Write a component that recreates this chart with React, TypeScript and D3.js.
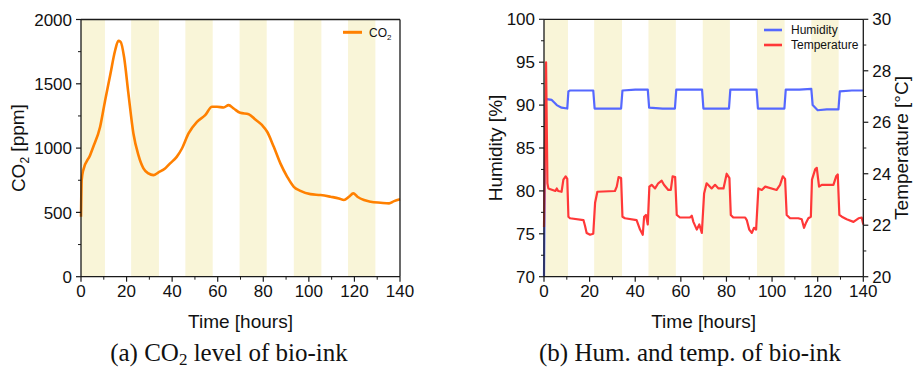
import React from "react";
import * as d3 from "d3";

// Light period windows (hours) shaded on both panels
const lightStart = [0, 22, 45.8, 69.6, 93.4, 117.2];
const lightEnd = [10.5, 34.2, 57.8, 81.5, 105.5, 129.2];

// Panel (a): CO2 concentration
const co2Hours = [0, 0.3, 1, 4, 5.4, 8.4, 10.6, 12.8, 15, 16.4, 17.4, 18.9, 20.8, 23, 25.2, 27.4, 29.6, 31.8, 34, 36.9, 39.1, 42, 44.3, 47.2, 50.9, 54.5, 57.5, 59.7, 62.6, 64.8, 67, 69.9, 73.6, 76.5, 79.5, 81.7, 84.6, 87.5, 90.5, 93.4, 96.3, 100.7, 105.1, 109.5, 113.2, 115.4, 117.6, 119.5, 121.3, 124.2, 127.1, 131.5, 135.2, 137.4, 140];
const co2Ppm = [466, 751, 829, 945, 1010, 1166, 1373, 1567, 1761, 1834, 1826, 1709, 1425, 1114, 945, 842, 803, 790, 811, 842, 881, 932, 997, 1114, 1204, 1256, 1321, 1321, 1316, 1334, 1308, 1274, 1264, 1222, 1178, 1127, 1010, 881, 777, 699, 668, 642, 635, 622, 609, 596, 622, 648, 622, 596, 583, 575, 570, 588, 603];

// Panel (b): relative humidity
const humHours = [0, 0.6, 1.2, 3.4, 5.6, 7.7, 10.2, 10.7, 11.4, 16, 21.6, 22.2, 28, 33.8, 34.4, 40, 45.5, 46.1, 52, 57.4, 58, 64, 69.3, 69.9, 75, 81.1, 81.7, 87, 93.2, 93.8, 100, 105.4, 106, 112, 117.2, 117.8, 120, 124, 129.1, 129.7, 135, 140];
const humPct = [70, 90.5, 90.7, 90.6, 90.0, 89.7, 89.6, 91.6, 91.7, 91.7, 91.7, 89.6, 89.6, 89.6, 91.7, 91.8, 91.8, 89.7, 89.6, 89.6, 91.8, 91.8, 91.8, 89.6, 89.6, 89.6, 91.8, 91.8, 91.8, 89.6, 89.6, 89.6, 91.8, 91.8, 91.9, 90.0, 89.4, 89.5, 89.5, 91.6, 91.7, 91.7];

// Panel (b): temperature
const tempHours = [0, 0.9, 1.5, 1.9, 5, 5.6, 6.2, 7.7, 8.5, 9.5, 10.2, 10.7, 11.4, 17.3, 18, 18.7, 20.2, 21.6, 22.4, 23.4, 31.1, 31.9, 32.7, 33.8, 34.4, 35.5, 40.6, 42.1, 43.3, 43.9, 44.7, 45.5, 46.2, 47.2, 48.7, 50.1, 51.6, 52.6, 54.5, 55.6, 56.4, 57.5, 58.2, 59.6, 64, 64.8, 65.5, 67, 68.1, 69.2, 70.2, 71.3, 73.5, 75, 76.5, 78.7, 80.1, 81.3, 81.9, 83, 88.2, 88.9, 90, 91.1, 92.1, 93, 94, 95.5, 97, 102, 103.5, 104.7, 105.7, 106.4, 107.9, 111.5, 113, 114, 114.9, 115.9, 117, 117.5, 118.9, 119.6, 120.6, 121.8, 126.9, 128.1, 128.8, 129.5, 130.6, 132.7, 135.7, 137.9, 139.3, 140];
const tempC = [
  21.93, 28.33, 23.63, 23.43, 23.33, 23.43, 23.33, 23.30, 23.77, 23.90,
  23.80, 22.33, 22.27, 22.20, 21.97, 21.70, 21.63, 21.67, 22.87, 23.30,
  23.33, 23.50, 23.87, 23.83, 22.33, 22.27, 22.20, 21.83, 21.63, 22.33,
  22.40, 22.03, 23.50, 23.57, 23.43, 23.63, 23.73, 23.57, 23.37, 23.37,
  23.90, 23.87, 22.40, 22.30, 22.30, 22.37, 22.13, 21.83, 22.03, 21.70,
  23.23, 23.63, 23.43, 23.57, 23.43, 23.43, 24.00, 23.83, 22.40, 22.30,
  22.30, 22.20, 21.83, 21.70, 21.90, 21.83, 23.43, 23.37, 23.50, 23.37,
  23.57, 23.90, 23.80, 22.40, 22.27, 22.27, 22.23, 21.90, 22.10, 22.27,
  22.33, 23.77, 24.17, 24.23, 23.50, 23.57, 23.57, 23.90, 23.97, 22.40,
  22.33, 22.23, 22.13, 22.27, 22.30, 22.03,
];

// Axis ticks
const timeTicks = [0, 20, 40, 60, 80, 100, 120, 140];
const timeMinor = [10, 30, 50, 70, 90, 110, 130];
const co2Ticks = [0, 500, 1000, 1500, 2000];
const co2Minor = [250, 750, 1250, 1750];
const humTicks = [70, 75, 80, 85, 90, 95, 100];
const humMinor = [72.5, 77.5, 82.5, 87.5, 92.5, 97.5];
const tempTicks = [20, 22, 24, 26, 28, 30];
const tempMinor = [21, 23, 25, 27, 29];

const SANS = "'Liberation Sans', Arial, sans-serif";
const SERIF = "'Liberation Serif', 'Times New Roman', serif";
const AXIS = "#1a1a1a";
const BAND = "#f9f5d8";
const ORANGE = "#ff8000";
const BLUE = "#5568ff";
const RED = "#ff3838";
const TICK_FS = 17;
const TITLE_FS = 19;

const zip = (xs: number[], ys: number[]) => xs.map((x, i) => [x, ys[i]] as [number, number]);

function Bands({ x, y0, y1 }: { x: d3.ScaleLinear<number, number>; y0: number; y1: number }) {
  return (
    <g>
      {lightStart.map((s, i) => (
        <rect key={i} x={x(s)} y={y1} width={x(lightEnd[i]) - x(s)} height={y0 - y1} fill={BAND} />
      ))}
    </g>
  );
}

function XAxis({ x, y }: { x: d3.ScaleLinear<number, number>; y: number }) {
  const [a, b] = x.range();
  return (
    <g>
      <line x1={a} x2={b} y1={y} y2={y} stroke={AXIS} strokeWidth={1.3} />
      {timeTicks.map((t) => (
        <g key={t}>
          <line x1={x(t)} x2={x(t)} y1={y} y2={y + 5} stroke={AXIS} strokeWidth={1.2} />
          <text x={x(t)} y={y + 20} fontSize={TICK_FS} fontFamily={SANS} textAnchor="middle" fill="#111">
            {t}
          </text>
        </g>
      ))}
      {timeMinor.map((t) => (
        <line key={t} x1={x(t)} x2={x(t)} y1={y} y2={y + 3} stroke={AXIS} strokeWidth={1} />
      ))}
      <text x={(a + b) / 2} y={y + 51} fontSize={TITLE_FS} fontFamily={SANS} textAnchor="middle" fill="#111">
        Time [hours]
      </text>
    </g>
  );
}

function YAxis({
  y,
  x,
  ticks,
  minor,
  side,
}: {
  y: d3.ScaleLinear<number, number>;
  x: number;
  ticks: number[];
  minor: number[];
  side: "left" | "right";
}) {
  const [b, t] = y.range();
  const dir = side === "left" ? -1 : 1;
  return (
    <g>
      <line x1={x} x2={x} y1={b} y2={t} stroke={AXIS} strokeWidth={1.3} />
      {ticks.map((v) => (
        <g key={v}>
          <line x1={x} x2={x + dir * 5} y1={y(v)} y2={y(v)} stroke={AXIS} strokeWidth={1.2} />
          <text
            x={x + dir * 9}
            y={y(v)}
            dy="0.36em"
            fontSize={TICK_FS}
            fontFamily={SANS}
            textAnchor={side === "left" ? "end" : "start"}
            fill="#111"
          >
            {v}
          </text>
        </g>
      ))}
      {minor.map((v) => (
        <line key={v} x1={x} x2={x + dir * 3} y1={y(v)} y2={y(v)} stroke={AXIS} strokeWidth={1} />
      ))}
    </g>
  );
}

function Co2Panel() {
  const x = d3.scaleLinear().domain([0, 140]).range([81, 400]);
  const y = d3.scaleLinear().domain([0, 2000]).range([276.7, 19.5]);
  const line = d3
    .line<[number, number]>()
    .x((d) => x(d[0]))
    .y((d) => y(d[1]))
    .curve(d3.curveMonotoneX);
  return (
    <g>
      <Bands x={x} y0={y(0)} y1={y(2000)} />
      <path d={line(zip(co2Hours, co2Ppm)) ?? ""} fill="none" stroke={ORANGE} strokeWidth={2.6} strokeLinejoin="round" />
      <line x1={x(0)} x2={x(140)} y1={y(2000)} y2={y(2000)} stroke={AXIS} strokeWidth={1.3} />
      <line x1={x(140)} x2={x(140)} y1={y(0)} y2={y(2000)} stroke={AXIS} strokeWidth={1.3} />
      <XAxis x={x} y={y(0)} />
      <YAxis y={y} x={x(0)} ticks={co2Ticks} minor={co2Minor} side="left" />
      <text
        transform={`translate(18,${(y(0) + y(2000)) / 2}) rotate(-90)`}
        dy="0.36em"
        fontSize={TITLE_FS}
        fontFamily={SANS}
        textAnchor="middle"
        fill="#111"
      >
        CO
        <tspan fontSize={12} dy="0.35em">2</tspan>
        <tspan dy="-0.25em"> [ppm]</tspan>
      </text>
      {/* legend */}
      <line x1={343} x2={362} y1={32.3} y2={32.3} stroke={ORANGE} strokeWidth={3} />
      <text x={369} y={36.5} fontSize={12} fontFamily={SANS} fill="#111">
        CO<tspan fontSize={8} dy="3">2</tspan>
      </text>
    </g>
  );
}

function HumTempPanel() {
  const x = d3.scaleLinear().domain([0, 140]).range([544, 863.3]);
  const yH = d3.scaleLinear().domain([70, 100]).range([276.7, 19.3]);
  const yT = d3.scaleLinear().domain([20, 30]).range([276.7, 19.3]);
  const lineH = d3
    .line<[number, number]>()
    .x((d) => x(d[0]))
    .y((d) => yH(d[1]));
  const lineT = d3
    .line<[number, number]>()
    .x((d) => x(d[0]))
    .y((d) => yT(d[1]));
  return (
    <g>
      <Bands x={x} y0={yH(70)} y1={yH(100)} />
      <path d={lineH(zip(humHours, humPct)) ?? ""} fill="none" stroke={BLUE} strokeWidth={2.2} strokeLinejoin="round" />
      <path d={lineT(zip(tempHours, tempC)) ?? ""} fill="none" stroke={RED} strokeWidth={2.2} strokeLinejoin="round" />
      <line x1={x(0)} x2={x(140)} y1={yH(100)} y2={yH(100)} stroke={AXIS} strokeWidth={1.3} />
      <XAxis x={x} y={yH(70)} />
      <YAxis y={yH} x={x(0)} ticks={humTicks} minor={humMinor} side="left" />
      <YAxis y={yT} x={x(140)} ticks={tempTicks} minor={tempMinor} side="right" />
      <text
        transform={`translate(495,${(yH(70) + yH(100)) / 2}) rotate(-90)`}
        dy="0.36em"
        fontSize={TITLE_FS}
        fontFamily={SANS}
        textAnchor="middle"
        fill="#111"
      >
        Humidity [%]
      </text>
      <text
        transform={`translate(902,${(yH(70) + yH(100)) / 2}) rotate(-90)`}
        dy="0.33em"
        fontSize={TITLE_FS}
        fontFamily={SANS}
        textAnchor="middle"
        fill="#111"
      >
        Temperature [°C]
      </text>
      {/* legend */}
      <line x1={764} x2={782} y1={30} y2={30} stroke={BLUE} strokeWidth={2.6} />
      <text x={791} y={34.2} fontSize={12} fontFamily={SANS} fill="#111">Humidity</text>
      <line x1={764} x2={782} y1={45} y2={45} stroke={RED} strokeWidth={2.6} />
      <text x={791} y={49.2} fontSize={12} fontFamily={SANS} fill="#111">Temperature</text>
    </g>
  );
}

export default function App() {
  return (
    <svg
      width={913}
      height={373}
      viewBox="0 0 913 373"
      style={{ position: "absolute", left: 0, top: 0, background: "#fff" }}
    >
      <rect width={913} height={373} fill="#fff" />
      <Co2Panel />
      <HumTempPanel />
      <text x={229} y={361} fontSize={25} fontFamily={SERIF} textAnchor="middle" fill="#111">
        (a) CO<tspan fontSize={17} dy="4">2</tspan>
        <tspan dy="-4"> level of bio-ink</tspan>
      </text>
      <text x={690} y={361} fontSize={25} fontFamily={SERIF} textAnchor="middle" fill="#111">
        (b) Hum. and temp. of bio-ink
      </text>
    </svg>
  );
}
